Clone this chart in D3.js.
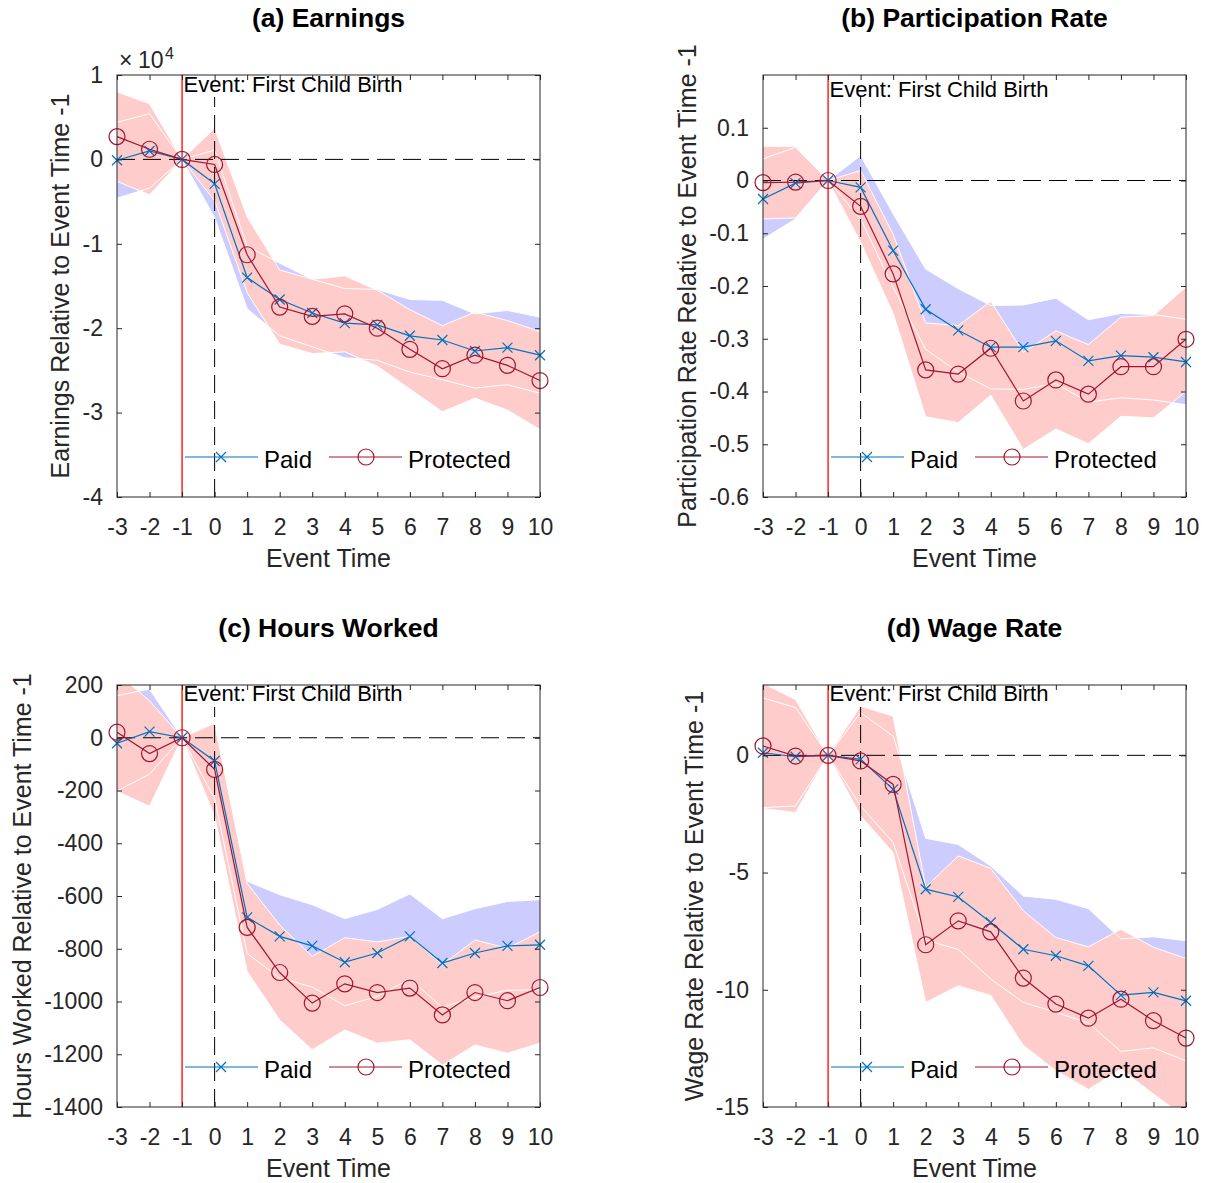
<!DOCTYPE html>
<html>
<head>
<meta charset="utf-8">
<script src="https://cdn.jsdelivr.net/npm/d3@7"></script>
<style>
  body { margin: 0; background: #fff; }
  svg { display: block; }
  text { font-family: "Liberation Sans", Arial, Helvetica, sans-serif; }
</style>
</head>
<body>
<svg id="fig" width="1208" height="1183"></svg>
<script>
// Event time relative to first child birth
const eventTime = [-3, -2, -1, 0, 1, 2, 3, 4, 5, 6, 7, 8, 9, 10];

// (a) Earnings
const earningsPaid        = [-100, 1000, 0, -2900, -14000, -16600, -18200, -19400, -19600, -20900, -21400, -22700, -22300, -23200];
const earningsPaidCI      = [4500, 4400, 0, 4000, 3700, 4300, 4000, 4100, 4200, 4300, 4700, 4400, 4400, 4500];
const earningsProtected   = [2700, 1200, 0, -600, -11300, -17500, -18600, -18300, -20000, -22500, -24800, -23200, -24400, -26200];
const earningsProtectedCI = [5300, 5400, 0, 4300, 4500, 4400, 4400, 4500, 4500, 4700, 5100, 5100, 5300, 5800];
const earningsTicks       = [10000, 0, -10000, -20000, -30000, -40000];

// (b) Participation rate
const partPaid        = [-0.035, -0.005, 0, -0.013, -0.133, -0.244, -0.284, -0.316, -0.316, -0.304, -0.342, -0.332, -0.335, -0.344];
const partPaidCI      = [0.076, 0.068, 0, 0.060, 0.070, 0.076, 0.079, 0.079, 0.080, 0.081, 0.078, 0.080, 0.081, 0.081];
const partProtected   = [-0.004, -0.003, 0, -0.049, -0.177, -0.359, -0.367, -0.318, -0.418, -0.378, -0.405, -0.353, -0.353, -0.301];
const partProtectedCI = [0.069, 0.068, 0, 0.068, 0.075, 0.089, 0.092, 0.089, 0.092, 0.093, 0.094, 0.094, 0.097, 0.099];
const partTicks       = [0.1, 0, -0.1, -0.2, -0.3, -0.4, -0.5, -0.6];

// (c) Hours worked
const hoursPaid        = [-21, 23, 0, -88, -681, -753, -789, -851, -816, -753, -854, -816, -789, -785];
const hoursPaidCI      = [181, 161, 0, 143, 137, 158, 156, 165, 165, 161, 168, 168, 168, 171];
const hoursProtected   = [21, -60, 0, -120, -719, -890, -1006, -933, -966, -949, -1051, -966, -997, -947];
const hoursProtectedCI = [224, 200, 0, 177, 167, 180, 177, 175, 192, 196, 190, 199, 199, 211];
const hoursTicks       = [200, 0, -200, -400, -600, -800, -1000, -1200, -1400];

// (d) Wage rate
const wagePaid        = [0.11, -0.06, 0, -0.17, -1.45, -5.71, -6.04, -7.13, -8.27, -8.55, -8.98, -10.23, -10.11, -10.47];
const wagePaidCI      = [2.34, 2.10, 0, 1.99, 2.27, 2.17, 2.24, 2.41, 2.27, 2.41, 2.44, 2.40, 2.37, 2.56];
const wageProtected   = [0.40, -0.03, 0, -0.24, -1.24, -8.08, -7.06, -7.53, -9.50, -10.61, -11.21, -10.40, -11.32, -12.06];
const wageProtectedCI = [2.67, 2.41, 0, 2.34, 2.91, 2.46, 2.77, 2.71, 2.87, 2.84, 3.04, 2.98, 3.13, 3.40];
const wageTicks       = [0, -5, -10, -15];

const seriesNames = ["Paid", "Protected"];

const panels = [
  { title: "(a) Earnings", ylabel: "Earnings Relative to Event Time -1",
    paid: earningsPaid, paidCI: earningsPaidCI, prot: earningsProtected, protCI: earningsProtectedCI,
    domain: [-40000, 10000], ticks: earningsTicks, fmt: v => String(v / 10000), exponent: "4", eventDy: 17 },
  { title: "(b) Participation Rate", ylabel: "Participation Rate Relative to Event Time -1",
    paid: partPaid, paidCI: partPaidCI, prot: partProtected, protCI: partProtectedCI,
    domain: [-0.6, 0.2], ticks: partTicks, fmt: v => (Math.abs(v) < 1e-9 ? "0" : String(+v.toFixed(1))), eventDy: 22 },
  { title: "(c) Hours Worked", ylabel: "Hours Worked Relative to Event Time -1",
    paid: hoursPaid, paidCI: hoursPaidCI, prot: hoursProtected, protCI: hoursProtectedCI,
    domain: [-1400, 200], ticks: hoursTicks, fmt: v => String(v), eventDy: 16 },
  { title: "(d) Wage Rate", ylabel: "Wage Rate Relative to Event Time -1",
    paid: wagePaid, paidCI: wagePaidCI, prot: wageProtected, protCI: wageProtectedCI,
    domain: [-15, 3], ticks: wageTicks, fmt: v => String(v), eventDy: 16 }
];

// styling
const AXIS = "#262626";
const PAID = "#0072BD", PROT = "#A2142F";
const PAID_BAND = "#ccccff", PROT_BAND = "#ffcccc";
const TICK_FS = 23, LABEL_FS = 25, TITLE_FS = 26.5, LEGEND_FS = 24, NOTE_FS = 22;

// layout
const W = 423, H = 422;
const lefts = [117, 763], tops = [75, 685];

const svg = d3.select("#fig");

function xMarker(sel, cx, cy, r, color) {
  sel.append("path")
    .attr("d", `M${cx - r},${cy - r}L${cx + r},${cy + r}M${cx - r},${cy + r}L${cx + r},${cy - r}`)
    .attr("stroke", color).attr("stroke-width", 1.2).attr("fill", "none");
}

panels.forEach((p, i) => {
  const left = lefts[i % 2], top = tops[Math.floor(i / 2)];
  const g = svg.append("g").attr("transform", `translate(${left},${top})`);

  const x = d3.scaleLinear().domain([-3, 10]).range([0, W]);
  const y = d3.scaleLinear().domain(p.domain).range([H, 0]);

  const clipId = "plotclip" + i;
  g.append("clipPath").attr("id", clipId)
    .append("rect").attr("width", W).attr("height", H);
  const plot = g.append("g").attr("clip-path", `url(#${clipId})`);

  // confidence bands
  const band = (v, ci) => d3.area()
    .x((d, j) => x(eventTime[j]))
    .y0((d, j) => y(v[j] - ci[j]))
    .y1((d, j) => y(v[j] + ci[j]));
  plot.append("path").datum(p.paid).attr("d", band(p.paid, p.paidCI)).attr("fill", PAID_BAND);
  plot.append("path").datum(p.prot).attr("d", band(p.prot, p.protCI)).attr("fill", PROT_BAND);

  // white band outlines
  const edge = (v, ci, s) => d3.line()
    .x((d, j) => x(eventTime[j]))
    .y((d, j) => y(v[j] + s * ci[j]));
  [[p.paid, p.paidCI], [p.prot, p.protCI]].forEach(([v, ci]) => {
    [1, -1].forEach(s => {
      plot.append("path").datum(v).attr("d", edge(v, ci, s))
        .attr("fill", "none").attr("stroke", "#fff").attr("stroke-width", 1);
    });
  });

  // reference lines
  plot.append("line")
    .attr("x1", x(-1)).attr("x2", x(-1)).attr("y1", 0).attr("y2", H)
    .attr("stroke", "#ff0000").attr("stroke-width", 1.3);
  plot.append("line")
    .attr("x1", 0).attr("x2", W).attr("y1", y(0)).attr("y2", y(0))
    .attr("stroke", "#000").attr("stroke-width", 1).attr("stroke-dasharray", "18,8");
  plot.append("line")
    .attr("x1", x(0)).attr("x2", x(0)).attr("y1", H).attr("y2", 22)
    .attr("stroke", "#000").attr("stroke-width", 1).attr("stroke-dasharray", "18,8");

  // series lines
  const line = d3.line().x((d, j) => x(eventTime[j])).y(d => y(d));
  g.append("path").datum(p.paid).attr("d", line)
    .attr("fill", "none").attr("stroke", PAID).attr("stroke-width", 1.2);
  p.paid.forEach((v, j) => xMarker(g, x(eventTime[j]), y(v), 5, PAID));

  g.append("path").datum(p.prot).attr("d", line)
    .attr("fill", "none").attr("stroke", PROT).attr("stroke-width", 1.2);
  g.selectAll("circle.prot").data(p.prot).enter().append("circle")
    .attr("class", "prot")
    .attr("cx", (d, j) => x(eventTime[j])).attr("cy", d => y(d)).attr("r", 8)
    .attr("fill", "none").attr("stroke", PROT).attr("stroke-width", 1.2);

  // axes (inward ticks on all four sides)
  const styleAxis = a => {
    a.select(".domain").remove();
    a.selectAll(".tick line").attr("stroke", AXIS);
    a.selectAll("text").attr("fill", AXIS).attr("font-size", TICK_FS)
      .attr("font-family", '"Liberation Sans", Arial, Helvetica, sans-serif');
  };
  g.append("g").attr("transform", `translate(0,${H})`)
    .call(d3.axisBottom(x).tickValues(eventTime).tickFormat(d => String(d))
      .tickSizeInner(-5).tickSizeOuter(0).tickPadding(21.5))
    .call(styleAxis);
  g.append("g")
    .call(d3.axisTop(x).tickValues(eventTime).tickFormat("")
      .tickSizeInner(-5).tickSizeOuter(0))
    .call(styleAxis);
  const yAxisG = g.append("g")
    .call(d3.axisLeft(y).tickValues(p.ticks).tickFormat(p.fmt)
      .tickSizeInner(-5).tickSizeOuter(0).tickPadding(14))
    .call(styleAxis);
  g.append("g").attr("transform", `translate(${W},0)`)
    .call(d3.axisRight(y).tickValues(p.ticks).tickFormat("")
      .tickSizeInner(-5).tickSizeOuter(0))
    .call(styleAxis);

  g.append("rect").attr("width", W).attr("height", H)
    .attr("fill", "none").attr("stroke", AXIS).attr("stroke-width", 1);

  // exponent multiplier
  if (p.exponent) {
    g.append("text").attr("x", 2).attr("y", -7)
      .attr("font-size", TICK_FS).attr("fill", AXIS).text("\u00d7");
    g.append("text").attr("x", 21).attr("y", -7)
      .attr("font-size", TICK_FS).attr("fill", AXIS).text("10");
    g.append("text").attr("x", 48).attr("y", -16)
      .attr("font-size", 16).attr("fill", AXIS).text(p.exponent);
  }

  // title
  g.append("text").attr("x", W / 2).attr("y", -48)
    .attr("text-anchor", "middle").attr("font-size", TITLE_FS).attr("font-weight", "bold")
    .attr("fill", "#000").text(p.title);

  // x label
  g.append("text").attr("x", W / 2).attr("y", H + 70)
    .attr("text-anchor", "middle").attr("font-size", LABEL_FS).attr("fill", AXIS)
    .text("Event Time");

  // y label, placed just outside the widest tick label
  let minX = 0;
  yAxisG.selectAll("text").each(function () {
    minX = Math.min(minX, this.getBBox().x);
  });
  const ylx = minX - 22;
  g.append("text")
    .attr("transform", `translate(${ylx},${H / 2}) rotate(-90)`)
    .attr("text-anchor", "middle").attr("dy", "0.35em")
    .attr("font-size", LABEL_FS).attr("fill", AXIS).text(p.ylabel);

  // event annotation
  g.append("text").attr("x", x(-1) + 1.5).attr("y", p.eventDy)
    .attr("font-size", NOTE_FS).attr("fill", "#000").text("Event: First Child Birth");

  // legend
  const ly = 382, lt = 393;
  g.append("line").attr("x1", 68).attr("x2", 141).attr("y1", ly).attr("y2", ly)
    .attr("stroke", PAID).attr("stroke-width", 1.2);
  xMarker(g, 104, ly, 5, PAID);
  g.append("text").attr("x", 147).attr("y", lt).attr("font-size", LEGEND_FS)
    .attr("fill", "#000").text(seriesNames[0]);
  g.append("line").attr("x1", 212).attr("x2", 285).attr("y1", ly).attr("y2", ly)
    .attr("stroke", PROT).attr("stroke-width", 1.2);
  g.append("circle").attr("cx", 249).attr("cy", ly).attr("r", 8)
    .attr("fill", "none").attr("stroke", PROT).attr("stroke-width", 1.2);
  g.append("text").attr("x", 291).attr("y", lt).attr("font-size", LEGEND_FS)
    .attr("fill", "#000").text(seriesNames[1]);
});
</script>
</body>
</html>
